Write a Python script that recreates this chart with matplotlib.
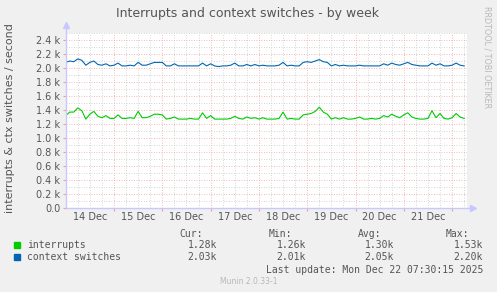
import numpy as np
import matplotlib
matplotlib.use("Agg")
import matplotlib.pyplot as plt
from matplotlib.ticker import FixedLocator, FixedFormatter

# hours since 14 Dec 00:00, one sample every 2 hours
hours = np.arange(0, 200, 2)

context_switches = [
    2.08, 2.10, 2.09, 2.13, 2.11, 2.04, 2.08, 2.10, 2.05, 2.04,
    2.06, 2.03, 2.04, 2.07, 2.03, 2.03, 2.04, 2.03, 2.08, 2.04,
    2.04, 2.06, 2.08, 2.08, 2.08, 2.03, 2.03, 2.06, 2.03, 2.03,
    2.03, 2.03, 2.03, 2.03, 2.07, 2.03, 2.06, 2.03, 2.02, 2.03,
    2.03, 2.04, 2.07, 2.03, 2.03, 2.05, 2.03, 2.05, 2.03, 2.04,
    2.03, 2.03, 2.03, 2.04, 2.08, 2.03, 2.04, 2.03, 2.03, 2.08,
    2.09, 2.08, 2.10, 2.12, 2.09, 2.08, 2.03, 2.05, 2.03, 2.04,
    2.03, 2.03, 2.03, 2.04, 2.03, 2.03, 2.03, 2.03, 2.03, 2.06,
    2.04, 2.07, 2.05, 2.04, 2.06, 2.08, 2.05, 2.04, 2.03, 2.03,
    2.03, 2.07, 2.04, 2.06, 2.03, 2.03, 2.04, 2.07, 2.04, 2.03,
]
interrupts = [
    1.32, 1.37, 1.37, 1.43, 1.39, 1.27, 1.34, 1.38, 1.31, 1.29,
    1.32, 1.28, 1.28, 1.33, 1.28, 1.28, 1.29, 1.28, 1.38, 1.29,
    1.29, 1.31, 1.34, 1.34, 1.33, 1.27, 1.28, 1.30, 1.27, 1.27,
    1.27, 1.28, 1.27, 1.27, 1.36, 1.28, 1.32, 1.27, 1.27, 1.27,
    1.27, 1.28, 1.31, 1.28, 1.27, 1.30, 1.28, 1.29, 1.27, 1.29,
    1.27, 1.27, 1.27, 1.28, 1.37, 1.27, 1.28, 1.27, 1.27, 1.33,
    1.34, 1.35, 1.38, 1.44, 1.37, 1.34, 1.27, 1.29, 1.27, 1.29,
    1.27, 1.27, 1.28, 1.30, 1.27, 1.27, 1.28, 1.27, 1.28, 1.32,
    1.30, 1.34, 1.31, 1.29, 1.33, 1.36, 1.30, 1.28, 1.27, 1.27,
    1.28, 1.39, 1.29, 1.35, 1.28, 1.27, 1.29, 1.35, 1.30, 1.28,
]

day_labels = ["14 Dec", "15 Dec", "16 Dec", "17 Dec", "18 Dec", "19 Dec", "20 Dec", "21 Dec"]
y_ticks = [0, 200, 400, 600, 800, 1000, 1200, 1400, 1600, 1800, 2000, 2200, 2400]
y_labels = ["0.0", "0.2 k", "0.4 k", "0.6 k", "0.8 k", "1.0 k", "1.2 k", "1.4 k",
            "1.6 k", "1.8 k", "2.0 k", "2.2 k", "2.4 k"]

names = ["interrupts", "context switches"]
colors = ["#00CC00", "#0066B3"]
cur = ["1.28k", "2.03k"]
mins = ["1.26k", "2.01k"]
avgs = ["1.30k", "2.05k"]
maxs = ["1.53k", "2.20k"]

W, H = 497, 292
bg = "#F0F0F0"
txt = "#555555"
axc = "#C8C8FF"

fig = plt.figure(figsize=(W / 100, H / 100), dpi=100, facecolor=bg)
x0, x1, y0, y1 = 66, 467, 33, 208
ax = fig.add_axes([x0 / W, 1 - y1 / H, (x1 - x0) / W, (y1 - y0) / H])
ax.set_facecolor("white")

ax.plot(hours, np.array(interrupts) * 1000, color=colors[0], lw=0.8)
ax.plot(hours, np.array(context_switches) * 1000, color=colors[1], lw=0.8)

ax.set_xlim(0.15, 199.4)
ax.set_ylim(0, 2500)

# grid
days = np.arange(24, 200, 24)
sixh = [h for h in np.arange(6, 200, 6) if h % 24 != 0]
for h in sixh:
    ax.axvline(h, color="#C8C8C8", lw=0.6, ls=(0, (1, 2)), zorder=0)
for h in days:
    ax.axvline(h, color="#F0A0A0", lw=0.6, ls=(0, (1, 2)), zorder=0)
for v in range(100, 2500, 200):
    ax.axhline(v, color="#C8C8C8", lw=0.6, ls=(0, (1, 2)), zorder=0)
for v in y_ticks[1:]:
    ax.axhline(v, color="#F0A0A0", lw=0.6, ls=(0, (1, 2)), zorder=0)
ax.axhline(2500, color="#C8C8C8", lw=0.6, ls=(0, (1, 2)), zorder=0)

for s in ["top", "right", "left", "bottom"]:
    ax.spines[s].set_visible(False)
ax.plot([0, 0], [0, 1.045], transform=ax.transAxes, color=axc, lw=1, clip_on=False)
ax.plot([0, 1.015], [0, 0], transform=ax.transAxes, color=axc, lw=1, clip_on=False)
ax.plot([0], [1.045], transform=ax.transAxes, marker="^", ms=4.5, color=axc, clip_on=False)
ax.plot([1.015], [0], transform=ax.transAxes, marker=">", ms=4.5, color=axc, clip_on=False)

ax.yaxis.set_major_locator(FixedLocator(y_ticks))
ax.yaxis.set_major_formatter(FixedFormatter(y_labels))
ax.tick_params(axis="y", length=2, color="#F0A0A0", labelsize=7, labelcolor=txt, pad=2)

ax.xaxis.set_major_locator(FixedLocator(days))
ax.xaxis.set_major_formatter(FixedFormatter([""] * len(days)))
ax.xaxis.set_minor_locator(FixedLocator(np.arange(12, 200, 24)))
ax.xaxis.set_minor_formatter(FixedFormatter(day_labels))
ax.tick_params(axis="x", which="major", length=2, color="#F0A0A0")
ax.tick_params(axis="x", which="minor", length=0, labelsize=7, labelcolor=txt, pad=3)

# texts
fig.text(248 / W, 1 - 14 / H, "Interrupts and context switches - by week",
         ha="center", va="center", fontsize=9, color=txt)
fig.text(10 / W, 1 - 118 / H, "interrupts & ctx switches / second",
         ha="center", va="center", rotation=90, fontsize=8, color=txt)
fig.text(487 / W, 1 - 57 / H, "RRDTOOL / TOBI OETIKER", ha="center", va="center",
         rotation=270, fontsize=5.8, color="#B8B8B8")

mono = "DejaVu Sans Mono"
fs = 7
row_y = [245, 257]
hdr_y = 234
cols = [(203, 217, "Cur:", cur), (292, 306, "Min:", mins),
        (381, 394, "Avg:", avgs), (469, 483, "Max:", maxs)]
for hx, vx, hdr, vals in cols:
    fig.text(hx / W, 1 - hdr_y / H, hdr, ha="right", va="center",
             family=mono, fontsize=fs, color=txt)
    for ry, v in zip(row_y, vals):
        fig.text(vx / W, 1 - ry / H, v, ha="right", va="center",
                 family=mono, fontsize=fs, color=txt)
for ry, name, c in zip(row_y, names, colors):
    fig.patches.append(plt.Rectangle((14 / W, 1 - (ry + 3) / H), 6 / W, 6 / H,
                                     transform=fig.transFigure, color=c, figure=fig))
    fig.text(27 / W, 1 - ry / H, name, ha="left", va="center",
             family=mono, fontsize=fs, color=txt)
fig.text(483 / W, 1 - 270 / H, "Last update: Mon Dec 22 07:30:15 2025",
         ha="right", va="center", family=mono, fontsize=fs, color=txt)
fig.text(249 / W, 1 - 281 / H, "Munin 2.0.33-1", ha="center", va="center",
         fontsize=5.5, color="#B8B8B8")

fig.savefig("out.png", dpi=100, facecolor=bg)
